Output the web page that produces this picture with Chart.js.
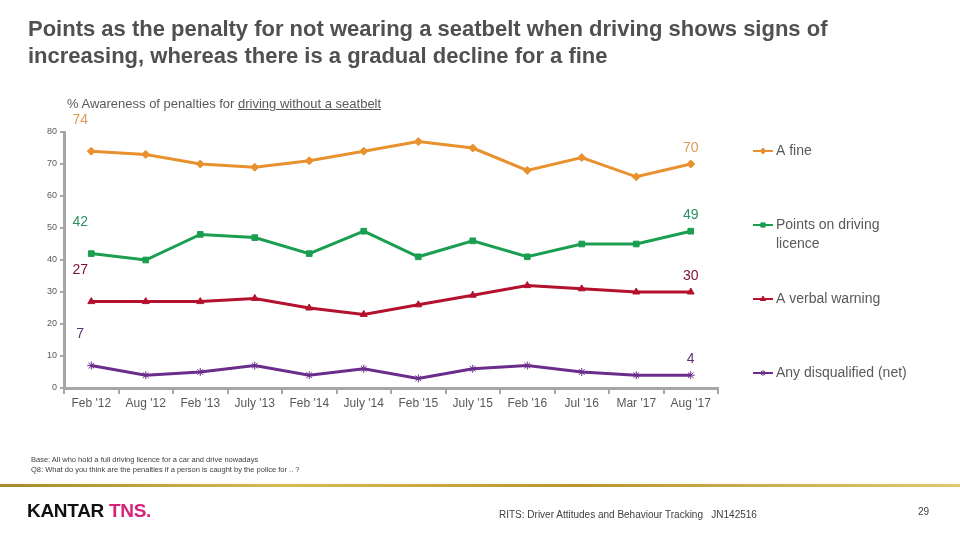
<!DOCTYPE html>
<html>
<head>
<meta charset="utf-8">
<script src="https://cdn.jsdelivr.net/npm/chart.js@4/dist/chart.umd.min.js"></script>
<style>
  html, body { margin: 0; padding: 0; background: #fff; }
  body { width: 960px; height: 540px; position: relative; overflow: hidden; font-family: "Liberation Sans", Arial, sans-serif; color: #595959; }
  #wrap { position: absolute; left: 0; top: 0; width: 960px; height: 540px; }
  .abs { position: absolute; white-space: nowrap; }
  #title { left: 28px; top: 15px; font-size: 22px; font-weight: bold; line-height: 27px; color: #505050; white-space: normal; width: 850px; }
  #sub { left: 67px; top: 96px; font-size: 13px; color: #595959; }
  #sub u { text-decoration: underline; }
  .foot { font-size: 7.5px; color: #404040; left: 31px; }
  #goldline { left: 0; top: 484px; width: 960px; height: 3px; background: linear-gradient(90deg, #a88a2a 0%, #d8bb55 30%, #b89530 60%, #e0c870 100%); }
  #logo { left: 27px; top: 500px; font-size: 19px; font-weight: bold; letter-spacing: -0.3px; }
  #logo .k { color: #111; }
  #logo .t { color: #d4237a; }
  #rits { left: 499px; top: 509px; font-size: 10px; color: #404040; }
  #page { left: 918px; top: 506px; font-size: 10px; color: #404040; }
</style>
</head>
<body>
<div id="wrap"><canvas id="chart" width="960" height="540"></canvas></div>
<div id="title" class="abs">Points as the penalty for not wearing a seatbelt when driving shows signs of increasing, whereas there is a gradual decline for a fine</div>
<div id="sub" class="abs">% Awareness of penalties for <u>driving without a seatbelt</u></div>
<div class="abs foot" style="top:455px">Base: All who hold a full driving licence for a car and drive nowadays</div>
<div class="abs foot" style="top:465px">Q8: What do you think are the penalties if a person is caught by the police for .. ?</div>
<div id="goldline" class="abs"></div>
<div id="logo" class="abs"><span class="k">KANTAR</span> <span class="t">TNS.</span></div>
<div id="rits" class="abs">RITS: Driver Attitudes and Behaviour Tracking &nbsp;&nbsp;JN142516</div>
<div id="page" class="abs">29</div>
<script>
// -----------------------------
// Data
// -----------------------------
const waves = ["Feb '12", "Aug '12", "Feb '13", "July '13", "Feb '14", "July '14",
               "Feb '15", "July '15", "Feb '16", "Jul '16", "Mar '17", "Aug '17"];

const fine         = [74, 73, 70, 69, 71, 74, 77, 75, 68, 72, 66, 70];
const pointsLic    = [42, 40, 48, 47, 42, 49, 41, 46, 41, 45, 45, 49];
const verbalWarn   = [27, 27, 27, 28, 25, 23, 26, 29, 32, 31, 30, 30];
const disqualified = [7, 4, 5, 7, 4, 6, 3, 6, 7, 5, 4, 4];

const seriesNames = ["A fine", ["Points on driving", "licence"], "A verbal warning", "Any disqualified (net)"];
const yTicks = [0, 10, 20, 30, 40, 50, 60, 70, 80];

const FONT = "'Liberation Sans', Arial, sans-serif";
const GREY = "#595959";
const AXIS = "#a6a6a6";

function makeSet(label, data, color, style, radius, labelColor, legendY) {
  return {
    label: label,
    data: data,
    borderColor: color,
    backgroundColor: color,
    borderWidth: 3,
    pointStyle: style,
    pointRadius: radius,
    pointBorderWidth: 1,
    tension: 0,
    labelColor: labelColor,
    legendY: legendY
  };
}

// -----------------------------
// Plugins: end labels + legend
// -----------------------------
const endLabels = {
  id: "endLabels",
  afterDatasetsDraw(chart) {
    const ctx = chart.ctx;
    const xs = chart.scales.x, ys = chart.scales.y;
    ctx.save();
    ctx.font = "14px " + FONT;
    ctx.textAlign = "center";
    ctx.textBaseline = "middle";
    chart.data.datasets.forEach(ds => {
      const first = ds.data[0];
      const last = ds.data[ds.data.length - 1];
      ctx.fillStyle = ds.labelColor;
      ctx.fillText(String(first), xs.getPixelForValue(0) - 11, ys.getPixelForValue(first) - 31);
      ctx.fillText(String(last), xs.getPixelForValue(ds.data.length - 1), ys.getPixelForValue(last) - 16);
    });
    ctx.restore();
  }
};

const sideLegend = {
  id: "sideLegend",
  afterDraw(chart) {
    const ctx = chart.ctx;
    ctx.save();
    chart.data.datasets.forEach((ds, i) => {
      const y = ds.legendY;
      ctx.strokeStyle = ds.borderColor;
      ctx.lineWidth = 2;
      ctx.beginPath();
      ctx.moveTo(753, y);
      ctx.lineTo(773, y);
      ctx.stroke();
      ctx.fillStyle = ds.backgroundColor;
      ctx.lineWidth = 1;
      Chart.helpers.drawPoint(ctx, { pointStyle: ds.pointStyle, radius: 3, borderWidth: 1, rotation: 0 }, 763, y);
      ctx.fillStyle = GREY;
      ctx.font = "14px " + FONT;
      ctx.textAlign = "left";
      ctx.textBaseline = "middle";
      const lines = Array.isArray(seriesNames[i]) ? seriesNames[i] : [seriesNames[i]];
      lines.forEach((t, k) => ctx.fillText(t, 776, y + k * 19));
    });
    ctx.restore();
  }
};

// -----------------------------
// Chart
// -----------------------------
new Chart(document.getElementById("chart"), {
  type: "line",
  data: {
    labels: waves,
    datasets: [
      makeSet("A fine", fine, "#e8912e", "rectRot", 4, "#d99b55", 151),
      makeSet("Points on driving licence", pointsLic, "#1a9e50", "rect", 4, "#2f8f62", 225),
      makeSet("A verbal warning", verbalWarn, "#b3112e", "triangle", 4, "#7a1030", 299),
      makeSet("Any disqualified (net)", disqualified, "#6a2d8c", "star", 4, "#5a3375", 373)
    ]
  },
  options: {
    responsive: false,
    animation: false,
    layout: { padding: { left: 0, top: 132, right: 242, bottom: 122 } },
    plugins: { legend: { display: false }, tooltip: { enabled: false } },
    scales: {
      x: {
        offset: true,
        afterFit: s => { s.height = 30; },
        grid: {
          display: true,
          drawOnChartArea: false,
          offset: true,
          tickLength: 6,
          color: AXIS,
          lineWidth: 2
        },
        border: { color: AXIS, width: 3 },
        ticks: { color: GREY, font: { family: FONT, size: 12 }, padding: 2, maxRotation: 0, autoSkip: false }
      },
      y: {
        min: 0,
        max: 80,
        afterFit: s => { s.width = 64; },
        afterBuildTicks: s => { s.ticks = yTicks.map(v => ({ value: v })); },
        grid: {
          display: true,
          drawOnChartArea: false,
          tickLength: 4,
          color: AXIS,
          lineWidth: 2
        },
        border: { color: AXIS, width: 3 },
        ticks: { color: GREY, font: { family: FONT, size: 9 }, padding: 3 }
      }
    }
  },
  plugins: [endLabels, sideLegend]
});
</script>
</body>
</html>
